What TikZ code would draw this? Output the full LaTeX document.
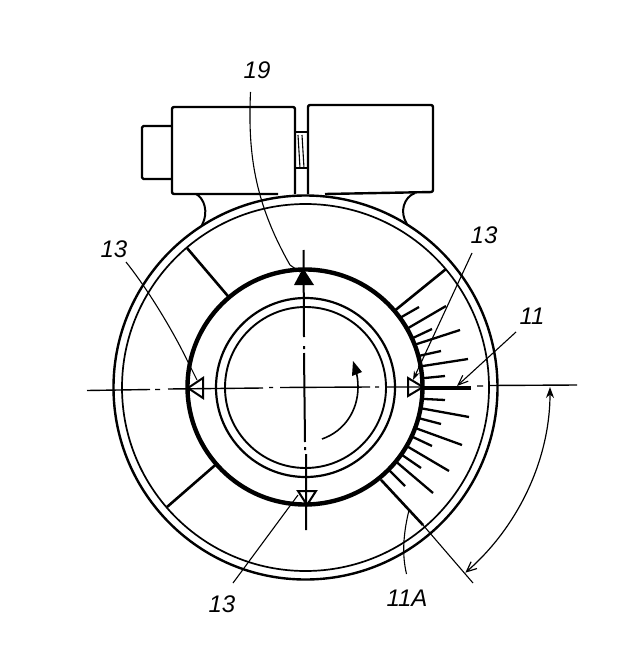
\documentclass[tikz,border=0pt]{standalone}
\usepackage{fontspec}
\setmainfont{Liberation Sans}
\usetikzlibrary{arrows.meta}
\tikzset{
  x=1pt,y=-1pt,
  ink/.style={line width=1.4pt,black},
  thin ink/.style={line width=1.1pt,black},
  heavy/.style={line width=4.4pt,black},
  body/.style={line width=2.4pt,black,line join=round},
  spoke/.style={line width=2.6pt,black,shorten <=-3pt},
  tick/.style={line width=2.3pt,black,shorten <=-5pt},
  lab/.style={font=\itshape\fontsize{24}{24}\selectfont,inner sep=0pt},
  open tip/.style={-{Stealth[length=9pt,width=6pt]}},
}
\begin{document}
\begin{tikzpicture}
\useasboundingbox (0,0) rectangle (629,671);
\fill[white] (0,0) rectangle (629,671);
% casing rings
\draw[line width=2.4pt] (305.5,387.5) circle (192);
\draw[line width=1.7pt] (305.5,387.5) circle (183.5);
\draw[heavy] (305,387) circle (117.5);
\draw[line width=2.2pt] (305.5,387.5) circle (89.5);
\draw[line width=1.9pt] (305.5,387.5) circle (80.5);
% head
\draw[body,rounded corners=2pt] (278,194) -- (172,194) -- (172,107) -- (295,107) -- (295,194);
\draw[body,rounded corners=2pt] (308,194) -- (308,105) -- (433,105) -- (433,192) -- (325,194);
\draw[body,rounded corners=1.5pt] (172,126) -- (142,126) -- (142,179) -- (172,179);
\draw[body] (295,132) -- (308,132);
\draw[line width=1.8pt] (295,168) -- (308,168);
\draw[thin ink] (298,135) -- (300,168) (302,135) -- (304,168);
\draw[line width=2pt] (196,194) .. controls (204,198) and (209,212) .. (202,225);
\draw[line width=2pt] (415,193) .. controls (404,197) and (399,212) .. (407,224);
% spokes
\draw[spoke] (227,295) -- (187,248);
\draw[spoke] (213,467) -- (167,507);
\draw[spoke] (398,308) -- (446,269);
\draw[spoke] (383,482) -- (423,525);
\draw[thin ink] (423,525) -- (473,583);
% scale ticks
\foreach \xa/\ya/\xb/\yb in {
  405/315/419/307, 410/327/446/306, 415/337/432/329, 420/343/460/330,
  423/355/441/351, 423/366/468/359, 425/378/445/376,
  425/399/445/400, 425/409/469/417, 422/419/441/424, 418/429/462/445,
  415/438/432/446, 410/448/449/471, 405/457/421/468, 400/465/433/493, 392/473/405/486}
  {\draw[tick] (\xa,\ya) -- (\xb,\yb);}
\draw[line width=3.2pt] (422,388) -- (471,388);
% centre lines
\draw[ink] (87,390.5) -- (150,389.5) (155,389.5) -- (160,389.5) (168,389) -- (263,388) (269,387.5) -- (273,387.5) (280,387.5) -- (370,387) (375,387) -- (379,387) (386,387) -- (424,387);
\draw[ink] (477,386) -- (483,386) (490,385.5) -- (577,385);
\draw[line width=2pt] (303.5,250) -- (304,337) (304,346) -- (304,349) (304,353) -- (305,442) (305,447) -- (305,450) (306,454) -- (306,530);
% markers
\fill (303,268) -- (314,285) -- (294,285) -- cycle;
\draw[line width=2pt] (298,491) -- (316,491) -- (307,505) -- cycle;
\draw[line width=2pt] (203,378) -- (203,398) -- (188,388) -- cycle;
\draw[line width=2pt] (408,378) -- (408,396) -- (423,387) -- cycle;
% rotation arrow
\draw[line width=1.6pt] (322,439) .. controls (345,431) and (358,410) .. (358,387) .. controls (358,380) and (357,375) .. (356,371);
\fill (353,361) -- (362,372) -- (352,376) -- cycle;
% labels
\node[lab] (l19) at (257,70) {19};
\node[lab] (l13a) at (114,249) {13};
\node[lab] (l13b) at (484,235) {13};
\node[lab] (l11) at (532,316) {11};
\node[lab] (l13c) at (222,604) {13};
\node[lab] (l11a) at (407,598) {11A};
% leader ends
\coordinate (t19) at (300,272);
\coordinate (t13a) at (197,380);
\coordinate (t13b) at (413,380);
\coordinate (t13c) at (298,495);
\coordinate (t11) at (457,386);
\coordinate (t11a) at (409,510);
\coordinate (s19) at (250.5,92);
\coordinate (s13a) at (126,262);
\coordinate (s13b) at (472,253);
\coordinate (s13c) at (233,583);
\coordinate (s11) at (516,332);
\coordinate (s11a) at (406.5,574);
% leaders
\draw[thin ink] (s19) .. controls (248,150) and (253,200) .. (290,265) -- (t19);
\draw[thin ink] (s13a) .. controls (150,292) and (175,335) .. (187,360) -- (t13a);
\draw[thin ink,open tip] (s13b) -- (t13b);
\draw[thin ink] (s13c) -- (t13c);
\draw[thin ink,-{Straight Barb[length=10pt,width=8pt]}] (s11) -- (t11);
\draw[thin ink] (s11a) .. controls (402,555) and (403,535) .. (t11a);
% angle
\draw[line width=1.2pt,{Stealth[length=11pt,width=8pt]}-{Straight Barb[length=10pt,width=9pt]}] (550,387) arc[start angle=0,end angle=49,x radius=246,y radius=246];
\end{tikzpicture}
\end{document}
